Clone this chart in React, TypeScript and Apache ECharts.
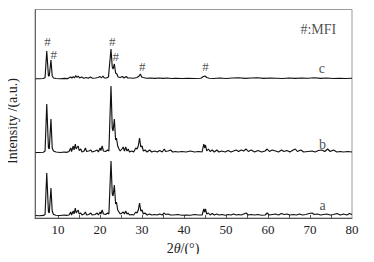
import React, { useEffect, useRef } from "react";
import * as echarts from "echarts";

const xTickLabels = [10, 20, 30, 40, 50, 60, 70, 80];
const xMinorTicks = [10, 15, 20, 25, 30, 35, 40, 45, 50, 55, 60, 65, 70, 75];

// heights above each pattern's own baseline
const traceA: number[][] = [
  [4.6, 0.5], [5.5, 0.3], [6.5, 0.6], [6.9, 1.5], [7.3, 43], [7.7, 4], [7.9, 3], [8.3, 28], [8.6, 5], [8.9, 1.5],
  [9.5, 0.8], [10.5, 0.5], [11.5, 1], [12.0, 0.6], [12.6, 1], [13.0, 4], [13.2, 1], [13.6, 5], [13.8, 2], [14.1, 8],
  [14.3, 3], [14.6, 5], [14.8, 6], [15.0, 2], [15.4, 3], [15.7, 1], [16.2, 2], [16.5, 4], [16.8, 1], [17.3, 1.5],
  [17.8, 3], [18.1, 1], [18.8, 1.5], [19.3, 3], [19.6, 1], [20.0, 4], [20.2, 2], [20.5, 6], [20.8, 2], [21.3, 1.5],
  [21.8, 3], [22.1, 2], [22.6, 55], [22.9, 22], [23.1, 20], [23.4, 31], [23.7, 12], [23.9, 14], [24.2, 6], [24.5, 4],
  [24.8, 2], [25.2, 3], [25.5, 4], [25.8, 2], [26.1, 5], [26.4, 2], [26.7, 3], [27.0, 1], [27.5, 1.5], [28.0, 1],
  [28.5, 4], [28.8, 3], [29.1, 6], [29.4, 13], [29.7, 5], [30.0, 6], [30.3, 2], [30.7, 3], [31.2, 1], [31.8, 2],
  [32.3, 1], [33.0, 1.5], [33.6, 1], [34.2, 2], [34.8, 1], [35.3, 3], [35.6, 1.5], [36.2, 2], [36.8, 1], [37.5, 1],
  [38.5, 1.5], [39.5, 0.8], [40.5, 1], [41.5, 0.8], [42.5, 1.5], [43.5, 1], [44.3, 1], [44.7, 7], [44.9, 4], [45.1, 7],
  [45.4, 2], [45.8, 3], [46.2, 1], [46.7, 2.5], [47.2, 1], [47.8, 2], [48.3, 1], [49.0, 1.5], [49.8, 0.8], [50.5, 1.5],
  [51.2, 1], [51.8, 2], [52.4, 1], [53.0, 1.5], [53.6, 1], [54.2, 2], [54.8, 3], [55.3, 1], [56.0, 1.5], [56.8, 1],
  [57.6, 1.5], [58.5, 0.8], [59.3, 1], [59.8, 3], [60.3, 1], [61.0, 1.5], [61.8, 2], [62.5, 1], [63.2, 2.5], [63.8, 1.5],
  [64.5, 2], [65.2, 1], [66.0, 1.5], [66.8, 1], [67.5, 2], [68.2, 1], [69.0, 1.5], [69.8, 2.5], [70.5, 3], [71.0, 1.5],
  [71.8, 2], [72.5, 1], [73.2, 1.5], [74.0, 2], [74.8, 1], [75.6, 1.5], [76.4, 2.5], [77.2, 1], [78.0, 2], [78.8, 1],
  [79.4, 2.5], [80, 1.5],
];

const traceB: number[][] = [
  [4.6, 0.5], [5.5, 0.5], [6.5, 0.8], [6.9, 2], [7.3, 49], [7.7, 5], [7.9, 4], [8.3, 34], [8.6, 5], [8.9, 2],
  [9.5, 1], [10.5, 0.5], [11.5, 1], [12.0, 0.6], [12.6, 1.5], [13.0, 5], [13.2, 1.5], [13.6, 7], [13.8, 3], [14.1, 9],
  [14.3, 4], [14.6, 6], [14.8, 7], [15.0, 2.5], [15.4, 4], [15.7, 1], [16.2, 2], [16.5, 5], [16.8, 1.5], [17.3, 2],
  [17.8, 3], [18.1, 1], [18.8, 2], [19.3, 3], [19.6, 1], [20.0, 5], [20.2, 2.5], [20.5, 7], [20.8, 2], [21.3, 1.5],
  [21.8, 3], [22.1, 2], [22.6, 67], [22.9, 25], [23.1, 22], [23.4, 34], [23.7, 13], [23.9, 15], [24.2, 7], [24.5, 4],
  [24.8, 2], [25.2, 4], [25.5, 6], [25.8, 2], [26.1, 6], [26.4, 2], [26.7, 4], [27.0, 1], [27.5, 2], [28.0, 1],
  [28.5, 5], [28.8, 4], [29.1, 7], [29.4, 15], [29.7, 6], [30.0, 7], [30.3, 2], [30.7, 3], [31.2, 1], [31.8, 3],
  [32.3, 1], [33.0, 2], [33.6, 1], [34.2, 2.5], [34.8, 1], [35.3, 4], [35.6, 1.5], [36.2, 2], [36.8, 3], [37.3, 1],
  [38.0, 1.5], [38.5, 1], [39.5, 1.5], [40.5, 1], [41.5, 2], [42.5, 1], [43.5, 1.5], [44.3, 1], [44.7, 9], [44.9, 5],
  [45.1, 8], [45.4, 2], [45.8, 4], [46.2, 1.5], [46.7, 3], [47.2, 1], [47.8, 3], [48.3, 1], [49.0, 2], [49.8, 1],
  [50.5, 2.5], [51.2, 1], [51.8, 2], [52.4, 3], [53.0, 1.5], [53.6, 3], [54.2, 2], [54.8, 4], [55.3, 1.5], [56.0, 3],
  [56.8, 1], [57.6, 2.5], [58.5, 1], [59.3, 2], [59.8, 4], [60.3, 1.5], [61.0, 3], [61.8, 2], [62.5, 1], [63.2, 3],
  [63.8, 1.5], [64.5, 2.5], [65.2, 1], [66.0, 3], [66.5, 4], [67.0, 1.5], [67.8, 3], [68.5, 1], [69.5, 1.5], [70.5, 2],
  [71.2, 1], [72.0, 2.5], [72.8, 3], [73.5, 1.5], [74.2, 4], [74.8, 1.5], [75.6, 3], [76.4, 1], [77.2, 1.5], [78.0, 1],
  [79.0, 1.5], [80, 1],
];

const traceC: number[][] = [
  [4.6, 0.3], [5.5, 0.3], [6.5, 0.5], [6.9, 1.5], [7.3, 28], [7.7, 3], [7.9, 3], [8.3, 19], [8.6, 3], [8.9, 1],
  [9.5, 0.5], [10.5, 0.3], [11.5, 0.6], [12.3, 0.4], [13.0, 2], [13.3, 0.8], [13.6, 2.5], [13.9, 1], [14.2, 3.5], [14.5, 1.5],
  [14.8, 3], [15.1, 1], [15.6, 2], [16.1, 0.8], [16.7, 1.5], [17.2, 0.7], [17.7, 2], [18.2, 0.8], [18.9, 1], [19.5, 1.5],
  [20.0, 2.5], [20.3, 1], [20.7, 3], [21.0, 1], [21.5, 1], [22.0, 2], [22.6, 30], [22.9, 12], [23.1, 10], [23.4, 15],
  [23.7, 6], [24.0, 5], [24.3, 2], [24.8, 1.5], [25.3, 2.5], [25.7, 1], [26.2, 2.5], [26.6, 1], [27.2, 1], [28.0, 0.8],
  [28.8, 1.5], [29.3, 3], [29.6, 5], [29.9, 2], [30.3, 1.5], [31.0, 0.8], [32.0, 1], [33.0, 0.6], [34.0, 1], [35.0, 0.6],
  [36.0, 1], [37.0, 0.5], [38.0, 0.8], [39.5, 0.5], [41.0, 0.8], [42.5, 0.5], [44.0, 0.8], [44.6, 2.5], [45.0, 3], [45.4, 1.5],
  [46.0, 0.8], [47.0, 0.5], [48.5, 1], [50.0, 0.5], [51.5, 1], [53.0, 1.3], [54.5, 0.6], [56.0, 1], [57.5, 1.2], [59.0, 0.6],
  [60.5, 1], [62.0, 0.8], [63.5, 0.5], [65.0, 1], [66.5, 0.6], [68.0, 1], [69.5, 0.8], [71.0, 1.2], [72.5, 0.6], [74.0, 1],
  [75.5, 0.5], [77.0, 0.8], [78.5, 0.5], [80, 0.8],
];

// vertical offsets of the stacked patterns
const offsetA = 2;
const offsetB = 65;
const offsetC = 139;

const mfiMarks: number[][] = [
  [7.45, 177], [8.95, 164], [22.87, 177], [23.75, 161.5], [30.02, 152], [45.13, 152],
];
const traceLabels: (string | number)[][] = [
  ["c", 72.85, 150],
  ["b", 73.0, 74],
  ["a", 73.0, 13],
  ["#:MFI", 71.97, 189],
];

const FONT = "'Liberation Serif', 'Times New Roman', serif";

export default function App() {
  const ref = useRef<HTMLDivElement>(null);
  useEffect(() => {
    if (!ref.current) return;
    const chart = echarts.init(ref.current, null, { renderer: "svg" });
    const shift = (arr: number[][], off: number) => arr.map(([x, y]) => [x, y + off]);
    const lineSeries = (name: string, data: number[][]) => ({
      name,
      type: "line",
      data,
      symbol: "none",
      lineStyle: { color: "#111", width: 1.15 },
      silent: true,
    });
    chart.setOption({
      animation: false,
      grid: {
        left: 35,
        top: 9.5,
        right: 22,
        bottom: 44,
        show: true,
        borderColor: "#9a9a9a",
        borderWidth: 1,
      },
      xAxis: {
        type: "value",
        min: 4.5,
        max: 80,
        axisLine: { show: true, lineStyle: { color: "#555" } },
        axisTick: {
          show: true,
          inside: true,
          length: 3,
          customValues: xMinorTicks,
          lineStyle: { color: "#555" },
        },
        axisLabel: {
          customValues: xTickLabels,
          fontFamily: FONT,
          fontSize: 13,
          color: "#222",
          margin: 5,
        },
        splitLine: { show: false },
      },
      yAxis: {
        type: "value",
        min: 0,
        max: 208.5,
        axisLine: { show: true, lineStyle: { color: "#666" } },
        axisTick: { show: false },
        axisLabel: { show: false },
        splitLine: { show: false },
      },
      series: [
        lineSeries("a", shift(traceA, offsetA)),
        lineSeries("b", shift(traceB, offsetB)),
        lineSeries("c", shift(traceC, offsetC)),
        {
          type: "scatter",
          data: mfiMarks,
          symbolSize: 0,
          silent: true,
          label: {
            show: true,
            position: "inside",
            formatter: "#",
            fontFamily: FONT,
            fontSize: 13,
            lineHeight: 12,
            color: "#222",
          },
        },
        {
          type: "scatter",
          data: traceLabels.map(([t, x, y]) => ({ value: [x, y], name: t })),
          symbolSize: 0,
          silent: true,
          label: {
            show: true,
            position: "inside",
            formatter: (p: any) => p.name,
            fontFamily: FONT,
            fontSize: 14,
            color: "#222",
          },
        },
      ],
      graphic: [
        {
          type: "text",
          x: 183,
          y: 248,
          style: {
            text: "2{i|θ}/(°)",
            rich: { i: { fontStyle: "italic", fontFamily: FONT, fontSize: 14, fill: "#222" } },
            fontFamily: FONT,
            fontSize: 14,
            fill: "#222",
            align: "center",
            verticalAlign: "middle",
          },
        },
        {
          type: "text",
          x: 12,
          y: 121,
          rotation: Math.PI / 2,
          style: {
            text: "Intensity /(a.u.)",
            fontFamily: FONT,
            fontSize: 14,
            fill: "#222",
            align: "center",
            verticalAlign: "middle",
          },
        },
      ],
    });
    return () => chart.dispose();
  }, []);
  return <div ref={ref} style={{ width: 374, height: 262, margin: -8 }} />;
}
